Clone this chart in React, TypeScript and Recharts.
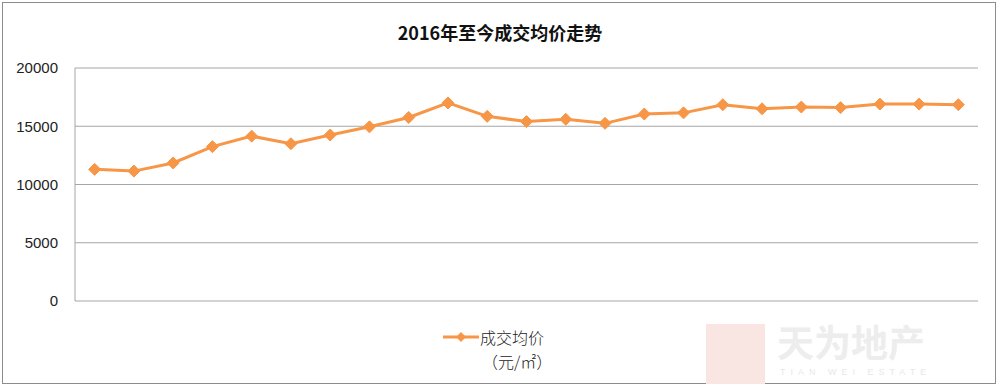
import React from 'react';
import { LineChart, Line, XAxis, YAxis, CartesianGrid } from 'recharts';

const months = [
  '2016-01', '2016-02', '2016-03', '2016-04', '2016-05', '2016-06', '2016-07', '2016-08',
  '2016-09', '2016-10', '2016-11', '2016-12', '2017-01', '2017-02', '2017-03', '2017-04',
  '2017-05', '2017-06', '2017-07', '2017-08', '2017-09', '2017-10', '2017-11',
];
const avgPrice = [
  11300, 11150, 11850, 13250, 14150, 13500, 14250, 14950,
  15750, 17000, 15850, 15400, 15600, 15250, 16050, 16150,
  16850, 16500, 16650, 16600, 16900, 16900, 16850,
];
const yTicks = [0, 5000, 10000, 15000, 20000];

const data = months.map((m, i) => ({ month: m, price: avgPrice[i] }));

const ORANGE = '#f79646';
const CJK = '"Noto Sans CJK SC", "Noto Sans", sans-serif';

// half a category step, so the points sit in the middle of each slot (Excel style)
const halfStep = 903 / months.length / 2;

const LegendBox = () => (
  <div style={{ display: 'flex', alignItems: 'flex-start', fontFamily: CJK, color: '#222' }}>
    <svg width={38} height={20} style={{ marginTop: 2 }}>
      <line x1={1} y1={10} x2={37} y2={10} stroke={ORANGE} strokeWidth={3} />
      <path d="M19,5 L24,10 L19,15 L14,10 Z" fill={ORANGE} />
    </svg>
    <div style={{ fontSize: 16, lineHeight: '24px', fontWeight: 300 }}>
      <div>成交均价</div>
      <div style={{ paddingLeft: 2 }}>（元/㎡）</div>
    </div>
  </div>
);

const App: React.FC = () => {
  return (
    <div
      style={{
        position: 'absolute',
        left: 0,
        top: 0,
        width: 1000,
        height: 388,
        background: '#fff',
      }}
    >
      <div
        style={{
          position: 'absolute',
          left: 2,
          top: 2,
          width: 994,
          height: 382,
          border: '1px solid #8c8c8c',
          boxSizing: 'border-box',
        }}
      />

      {/* faint watermark */}
      <div style={{ position: 'absolute', left: 706, top: 324, width: 59, height: 60, background: '#f9e6e3' }} />
      <div
        style={{
          position: 'absolute', left: 777, top: 320, fontFamily: CJK, fontWeight: 700,
          fontSize: 37, color: '#ededed', lineHeight: '42px',
        }}
      >
        天为地产
      </div>
      <div
        style={{
          position: 'absolute', left: 780, top: 367, fontFamily: '"Liberation Sans", sans-serif',
          fontSize: 9, color: '#e8e8e8', letterSpacing: 5, lineHeight: '11px',
        }}
      >
        TIAN WEI ESTATE
      </div>

      <div
        style={{
          position: 'absolute', left: 0, top: 19, width: 1000, textAlign: 'center',
          fontFamily: CJK, fontWeight: 700, fontSize: 18, color: '#111', lineHeight: '26px',
        }}
      >
        2016年至今成交均价走势
      </div>

      <div style={{ position: 'absolute', left: 442, top: 325 }}>
        <LegendBox />
      </div>

      <LineChart
        width={1000}
        height={388}
        data={data}
        margin={{ top: 68, right: 22, bottom: 87, left: 0 }}
        style={{ position: 'absolute', left: 0, top: 0 }}
      >
        <CartesianGrid vertical={false} stroke="#a6a6a6" strokeWidth={1} />
        <XAxis dataKey="month" hide padding={{ left: halfStep, right: halfStep }} />
        <YAxis
          width={75}
          domain={[0, 20000]}
          ticks={yTicks}
          interval={0}
          axisLine={{ stroke: '#a6a6a6' }}
          tickLine={false}
          tickSize={0}
          tickMargin={17}
          tick={{ fill: '#222', fontSize: 15, fontFamily: '"Liberation Sans", Arial, sans-serif' }}
        />
        <Line
          type="linear"
          dataKey="price"
          name="成交均价"
          stroke={ORANGE}
          strokeWidth={3}
          isAnimationActive={false}
          activeDot={false}
          dot={(p: any) => (
            <path
              key={`d-${p.index}`}
              d={`M${p.cx},${p.cy - 6} L${p.cx + 6},${p.cy} L${p.cx},${p.cy + 6} L${p.cx - 6},${p.cy} Z`}
              fill={ORANGE}
              stroke={ORANGE}
              strokeWidth={1}
            />
          )}
        />
      </LineChart>
    </div>
  );
};

export default App;
